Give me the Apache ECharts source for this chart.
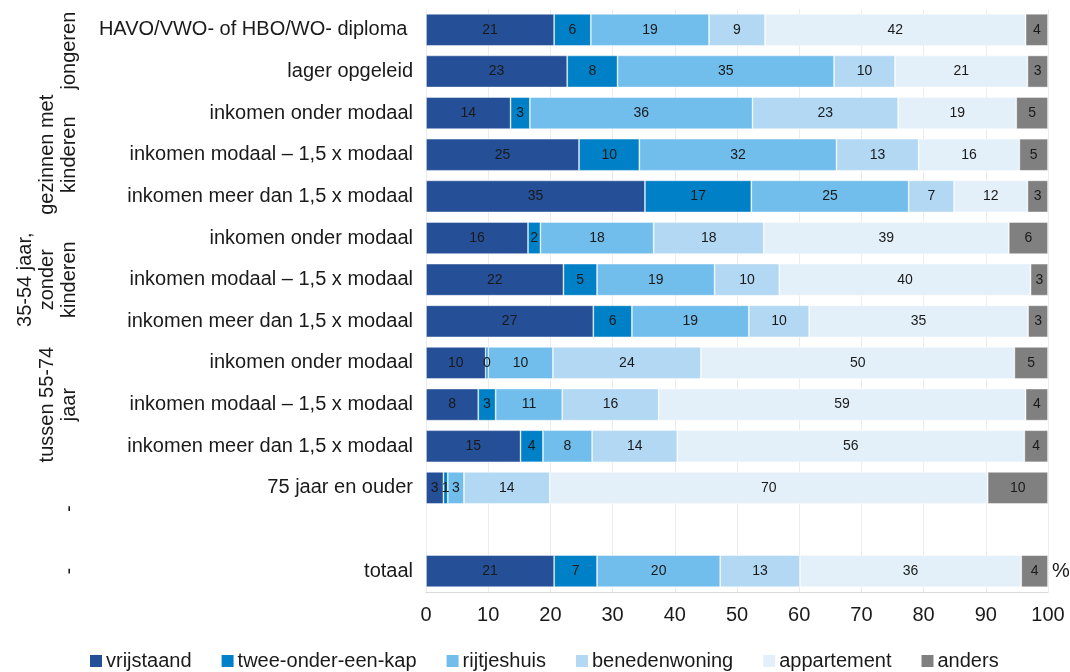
<!DOCTYPE html>
<html>
<head>
<meta charset="utf-8">
<title>Woningtype naar huishouden</title>
<script src="https://cdn.jsdelivr.net/npm/echarts@6/dist/echarts.min.js"></script>
<style>
  html, body { margin: 0; padding: 0; background: #ffffff; }
  #chart { width: 1070px; height: 672px; }
</style>
</head>
<body>
<div id="chart"></div>
<script>
// Row labels, top to bottom (the empty entry is a spacer row before "totaal")
const categories = [
  'HAVO/VWO- of HBO/WO- diploma ',
  'lager opgeleid',
  'inkomen onder modaal',
  'inkomen modaal \u2013 1,5 x modaal',
  'inkomen meer dan 1,5 x modaal',
  'inkomen onder modaal',
  'inkomen modaal \u2013 1,5 x modaal',
  'inkomen meer dan 1,5 x modaal',
  'inkomen onder modaal',
  'inkomen modaal \u2013 1,5 x modaal',
  'inkomen meer dan 1,5 x modaal',
  '75 jaar en ouder',
  '',
  'totaal'
];

// Share per dwelling type (%), one value per row
const vrijstaand    = [20.6, 22.7, 13.6, 24.6, 35.2, 16.4, 22.1, 26.9,  9.6,  8.4, 15.2,  2.8, null, 20.6];
const tweeOnderKap  = [ 5.9,  8.1,  3.1,  9.7, 17.1,  2.0,  5.4,  6.2,  0.4,  2.8,  3.6,  0.7, null,  6.9];
const rijtjeshuis   = [19.0, 34.8, 35.8, 31.7, 25.3, 18.2, 18.9, 18.8, 10.4, 10.7,  7.9,  2.6, null, 19.8];
const benedenwoning = [ 9.0,  9.8, 23.4, 13.2,  7.3, 17.7, 10.4,  9.7, 23.8, 15.5, 13.7, 13.8, null, 12.8];
const appartement   = [41.9, 21.3, 19.0, 16.2, 11.8, 39.4, 40.4, 35.2, 50.4, 59.0, 55.8, 70.4, null, 35.6];
const anders        = [ 3.6,  3.3,  5.1,  4.6,  3.3,  6.3,  2.8,  3.2,  5.4,  3.6,  3.8,  9.7, null,  4.3];

const seriesNames  = ['vrijstaand', 'twee-onder-een-kap', 'rijtjeshuis', 'benedenwoning', 'appartement', 'anders'];
const seriesValues = [vrijstaand, tweeOnderKap, rijtjeshuis, benedenwoning, appartement, anders];
const seriesColors = ['#254f97', '#0080c6', '#71bdec', '#b2d8f4', '#e3f0fa', '#808080'];

// Household groups shown vertically at the far left (first and last row index)
const groupLabels = ['jongeren', 'gezinnen met\nkinderen', '35-54 jaar,\nzonder\nkinderen', 'tussen 55-74\njaar', '-', '-'];
const groupFirst  = [0, 2, 5, 8, 11, 13];
const groupLast   = [1, 4, 7, 10, 12, 13];

const xTicks = { min: 0, max: 100, interval: 10 };

const FONT = '"Liberation Sans", Arial, Helvetica, sans-serif';

const chart = echarts.init(document.getElementById('chart'), null, { renderer: 'canvas' });

const series = seriesNames.map((name, i) => ({
  name: name,
  type: 'bar',
  stack: 'total',
  barCategoryGap: '23%',
  data: seriesValues[i],
  itemStyle: {
    color: seriesColors[i],
    borderColor: 'rgba(255,255,255,0.55)',
    borderWidth: 0.8
  },
  label: {
    show: true,
    position: 'inside',
    color: '#1a1a1a',
    fontFamily: FONT,
    fontSize: 14,
    formatter: p => (p.value == null ? '' : String(Math.round(p.value)))
  },
  emphasis: { disabled: true },
  animation: false
}));

chart.setOption({
  animation: false,
  backgroundColor: '#ffffff',
  textStyle: { fontFamily: FONT },
  grid: { left: 426, right: 22, top: 9, bottom: 80, containLabel: false },
  xAxis: {
    type: 'value',
    min: xTicks.min,
    max: xTicks.max,
    interval: xTicks.interval,
    axisLine: { show: true, lineStyle: { color: '#d9d9d9', width: 1 } },
    axisTick: { show: false },
    splitLine: { show: true, lineStyle: { color: '#ececec', width: 1 } },
    axisLabel: { color: '#1a1a1a', fontSize: 20, fontFamily: FONT, margin: 13 }
  },
  yAxis: {
    type: 'category',
    inverse: true,
    data: categories,
    axisLine: { show: false },
    axisTick: { show: false },
    splitLine: { show: false },
    axisLabel: { color: '#1a1a1a', fontSize: 20, fontFamily: FONT, margin: 13, padding: [2, 0, 0, 0] }
  },
  legend: {
    data: seriesNames,
    left: 85,
    top: 646,
    itemWidth: 12,
    itemHeight: 12,
    itemGap: 30,
    itemStyle: { borderWidth: 0 },
    icon: 'rect',
    textStyle: { color: '#1a1a1a', fontSize: 20, fontFamily: FONT, padding: [0, 0, 0, -1] },
    selectedMode: false
  },
  series: series
});

// Group captions and the unit sign, placed through the axes' own scales
function placeExtras() {
  const elements = [];
  groupLabels.forEach((txt, g) => {
    const y1 = chart.convertToPixel({ yAxisIndex: 0 }, groupFirst[g]);
    const y2 = chart.convertToPixel({ yAxisIndex: 0 }, groupLast[g]);
    elements.push({
      type: 'text',
      x: 80,
      y: (y1 + y2) / 2,
      rotation: Math.PI / 2,
      silent: true,
      style: {
        text: txt,
        fill: '#1a1a1a',
        font: '20px ' + FONT,
        lineHeight: 22,
        align: 'center',
        verticalAlign: 'bottom'
      }
    });
  });
  const last = categories.length - 1;
  const px = chart.convertToPixel({ gridIndex: 0 }, [xTicks.max, last]);
  elements.push({
    type: 'text',
    x: px[0] + 4,
    y: px[1],
    silent: true,
    style: {
      text: '%',
      fill: '#1a1a1a',
      font: '20px ' + FONT,
      align: 'left',
      verticalAlign: 'middle'
    }
  });
  chart.setOption({ graphic: { elements: elements } });
}
placeExtras();
</script>
</body>
</html>
